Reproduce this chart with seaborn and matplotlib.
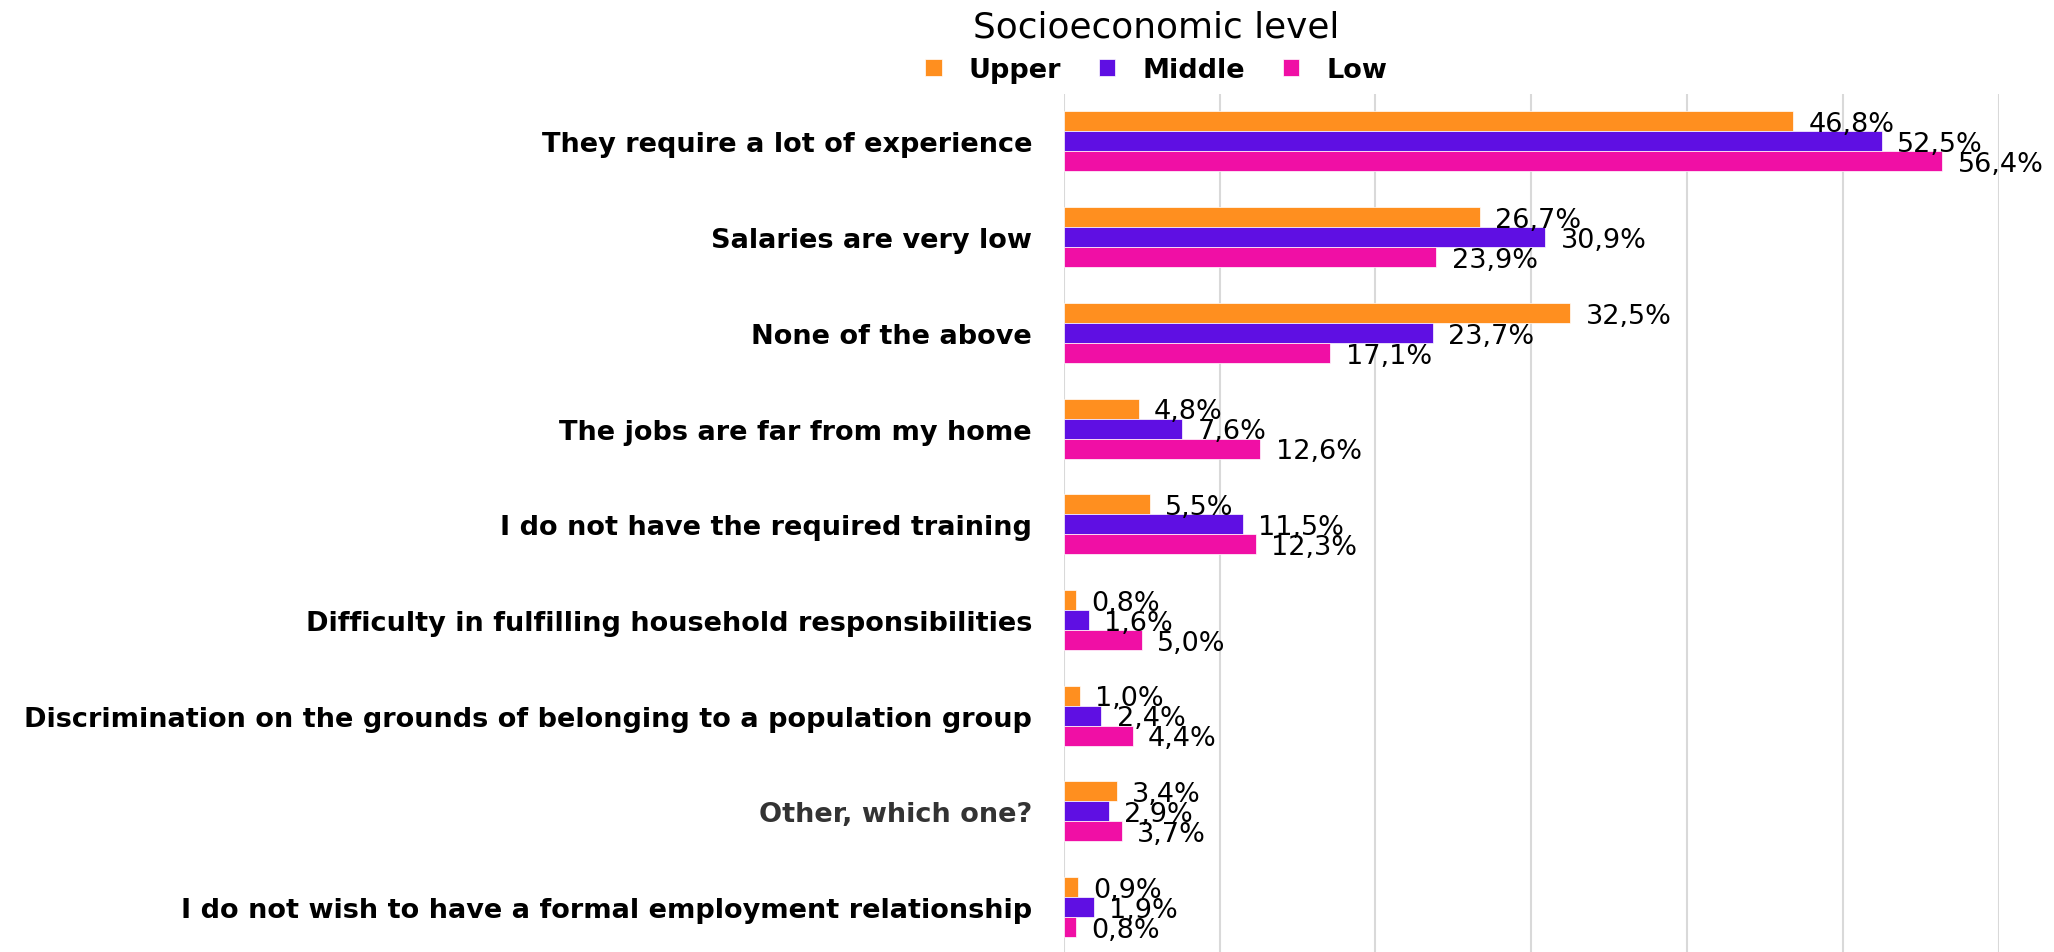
import matplotlib
matplotlib.use('Agg')
import matplotlib.pyplot as plt
import seaborn as sns
import numpy as np
import pandas as pd

# reasons (top to bottom) and percentages per socioeconomic level
categories = [
    'They require a lot of experience',
    'Salaries are very low',
    'None of the above',
    'The jobs are far from my home',
    'I do not have the required training',
    'Difficulty in fulfilling household responsibilities',
    'Discrimination on the grounds of belonging to a population group',
    'Other, which one?',
    'I do not wish to have a formal employment relationship',
]
levels = ['Upper', 'Middle', 'Low']
upper = [46.8, 26.7, 32.5, 4.8, 5.5, 0.8, 1.0, 3.4, 0.9]
middle = [52.5, 30.9, 23.7, 7.6, 11.5, 1.6, 2.4, 2.9, 1.9]
low = [56.4, 23.9, 17.1, 12.6, 12.3, 5.0, 4.4, 3.7, 0.8]
colors = ['#FF8F1F', '#5F0FE3', '#F00FA5']

df = pd.DataFrame({
    'reason': categories * 3,
    'level': np.repeat(levels, len(categories)),
    'pct': upper + middle + low,
})

sns.set_style('white')
plt.rcParams['font.family'] = ['DejaVu Sans']
plt.rcParams['text.color'] = 'black'
plt.rcParams['ytick.color'] = 'black'

fig = plt.figure(figsize=(20.54, 9.53), dpi=100)
ax = fig.add_axes([0.518, -0.003, 0.455, 0.9037])

sns.barplot(data=df, y='reason', x='pct', hue='level', order=categories,
            hue_order=levels, palette=colors, width=0.627, orient='h',
            saturation=1, edgecolor='white', linewidth=0.5, ax=ax)

ax.set_xlim(0, 60)
ax.set_ylim(8.5, -0.5)
ax.set_xticks(range(0, 61, 10))
ax.set_xticklabels([])
ax.xaxis.grid(True, color='#D9D9D9', linewidth=1.5)
ax.set_axisbelow(True)
for s in ax.spines.values():
    s.set_visible(False)
ax.set_xlabel('')
ax.set_ylabel('')
ax.tick_params(axis='x', length=0)
ax.tick_params(axis='y', length=0, pad=23, labelsize=19.5, labelcolor='black')
for lab in ax.get_yticklabels():
    lab.set_fontweight('bold')
    if lab.get_text().startswith('Other'):
        lab.set_color('#333333')

# value labels
for cont, vals in zip(ax.containers, [upper, middle, low]):
    for bar, v in zip(cont, vals):
        ax.annotate(f'{v:.1f}%'.replace('.', ','),
                    xy=(bar.get_width(), bar.get_y() + bar.get_height() / 2),
                    xytext=(11, -2), textcoords='offset points', color='black',
                    va='center', ha='left', fontsize=19.5, annotation_clip=False)

handles, labels = ax.get_legend_handles_labels()
ax.get_legend().remove()
fig.legend(handles, labels, title='Socioeconomic level', loc='upper center',
           bbox_to_anchor=(0.563, 1.0), ncol=3, frameon=False,
           prop={'weight': 'bold', 'size': 19.5}, title_fontsize=25.8,
           handlelength=0.6, handleheight=0.6, handletextpad=1.0,
           columnspacing=1.4, borderaxespad=0.0)

fig.savefig('out.png', dpi=100)
